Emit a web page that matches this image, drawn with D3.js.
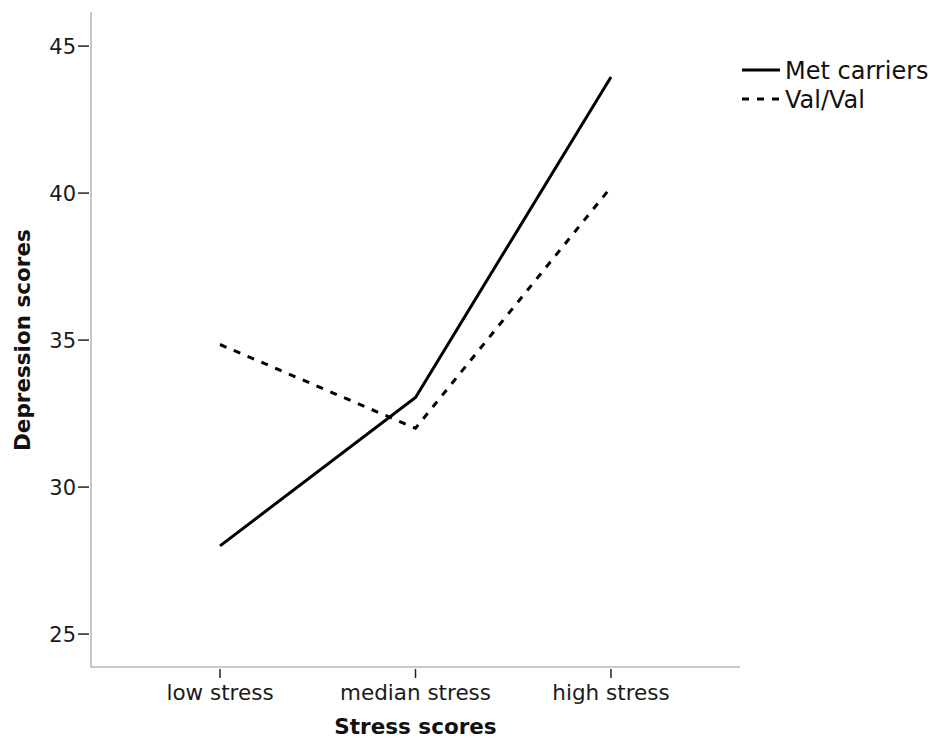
<!DOCTYPE html>
<html>
<head>
<meta charset="utf-8">
<script src="https://cdn.jsdelivr.net/npm/d3@7"></script>
<style>
  body { margin: 0; background: #fff; }
  svg { font-family: "DejaVu Sans", sans-serif; }
</style>
</head>
<body>
<svg id="chart" width="935" height="740"></svg>
<script>
// chart values
const stressLevels = ["low stress", "median stress", "high stress"];
const metCarriers = [28.0, 33.05, 43.95];
const valVal = [34.85, 32.0, 40.2];
const yTicks = [25, 30, 35, 40, 45];

const series = [
  { name: "Met carriers", values: metCarriers, dash: null },
  { name: "Val/Val", values: valVal, dash: "7,8" }
];

const svg = d3.select("#chart");
const plotLeft = 91, plotRight = 740, plotTop = 12, plotBottom = 667;

let xScale = d3.scalePoint()
  .domain(stressLevels)
  .range([plotLeft, plotRight])
  .padding(0.66);

let yScale = d3.scaleLinear()
  .domain([23.88, 46.16])
  .range([plotBottom, plotTop]);

// axis lines (light gray)
svg.append("line")
  .attr("x1", plotLeft).attr("x2", plotLeft)
  .attr("y1", plotTop).attr("y2", plotBottom + 1)
  .style("stroke", "#c8c8c8").style("stroke-width", 2);
svg.append("line")
  .attr("x1", plotLeft).attr("x2", plotRight)
  .attr("y1", plotBottom).attr("y2", plotBottom)
  .style("stroke", "#c8c8c8").style("stroke-width", 2);

// y ticks
let yAxis = svg.append("g");
yAxis.selectAll(".ytick")
  .data(yTicks)
  .enter()
  .append("line")
  .attr("class", "ytick")
  .attr("x1", plotLeft - 13).attr("x2", plotLeft - 2)
  .attr("y1", d => yScale(d)).attr("y2", d => yScale(d))
  .style("stroke", "#222").style("stroke-width", 1.5);
yAxis.selectAll(".ylabel")
  .data(yTicks)
  .enter()
  .append("text")
  .attr("class", "ylabel")
  .attr("x", plotLeft - 15)
  .attr("y", d => yScale(d))
  .attr("dy", "0.36em")
  .attr("text-anchor", "end")
  .style("font-size", "21px")
  .style("fill", "#1a1a1a")
  .text(d => d);

// x ticks
let xAxis = svg.append("g");
xAxis.selectAll(".xtick")
  .data(stressLevels)
  .enter()
  .append("line")
  .attr("class", "xtick")
  .attr("x1", d => xScale(d)).attr("x2", d => xScale(d))
  .attr("y1", plotBottom + 2).attr("y2", plotBottom + 11)
  .style("stroke", "#222").style("stroke-width", 1.5);
xAxis.selectAll(".xlabel")
  .data(stressLevels)
  .enter()
  .append("text")
  .attr("class", "xlabel")
  .attr("x", d => xScale(d))
  .attr("y", 700)
  .attr("text-anchor", "middle")
  .style("font-size", "21.5px")
  .style("fill", "#1a1a1a")
  .text(d => d);

// axis titles
svg.append("text")
  .attr("x", xScale("median stress"))
  .attr("y", 734)
  .attr("text-anchor", "middle")
  .style("font-size", "21.5px")
  .style("font-weight", "bold")
  .style("fill", "#111")
  .text("Stress scores");
svg.append("text")
  .attr("transform", `translate(30, ${yScale(35)}) rotate(-90)`)
  .attr("text-anchor", "middle")
  .style("font-size", "21.5px")
  .style("font-weight", "bold")
  .style("fill", "#111")
  .text("Depression scores");

// lines
let line = d3.line()
  .x((d, i) => xScale(stressLevels[i]))
  .y(d => yScale(d));

svg.selectAll(".series")
  .data(series)
  .enter()
  .append("path")
  .attr("class", "series")
  .attr("d", d => line(d.values))
  .style("fill", "none")
  .style("stroke", "#000")
  .style("stroke-width", 3)
  .style("stroke-dasharray", d => d.dash);

// legend
let legend = svg.selectAll(".legend")
  .data(series)
  .enter()
  .append("g")
  .attr("class", "legend")
  .attr("transform", (d, i) => `translate(742, ${70 + i * 29})`);
legend.append("line")
  .attr("x1", 0).attr("x2", 38)
  .attr("y1", 0).attr("y2", 0)
  .style("stroke", "#000")
  .style("stroke-width", 3)
  .style("stroke-dasharray", d => d.dash);
legend.append("text")
  .attr("x", 43)
  .attr("y", 0)
  .attr("dy", "0.36em")
  .style("font-size", "24px")
  .style("fill", "#111")
  .text(d => d.name);
</script>
</body>
</html>
